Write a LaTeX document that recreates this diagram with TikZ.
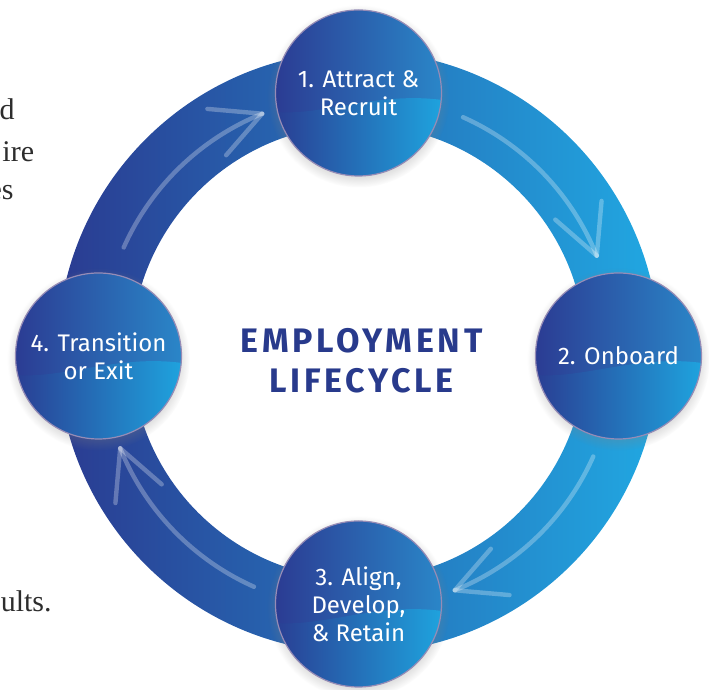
\documentclass[tikz,border=0pt]{standalone}
\usepackage{fontspec}
\setmainfont{Fira Sans}
\newfontfamily\titlefont{Fira Sans}[LetterSpace=11]
\newfontfamily\bodyfont{Liberation Serif}
\usepackage{tikz}
\usetikzlibrary{shadows,backgrounds}
\definecolor{navy}{RGB}{40,58,140}
\definecolor{ringleft}{RGB}{42,59,145}
\definecolor{ringmid}{RGB}{40,113,186}
\definecolor{ringright}{RGB}{33,168,226}
\definecolor{discleft}{RGB}{43,60,147}
\definecolor{discright}{RGB}{42,134,200}
\definecolor{waveleft}{RGB}{42,58,144}
\definecolor{waveright}{RGB}{30,167,225}
\definecolor{rim}{RGB}{150,140,182}
\definecolor{prosegrey}{RGB}{45,45,45}
\tikzstyle{stage} = [circle, minimum size=83pt, inner sep=0pt, align=center, text=white, font=\fontsize{12}{14}\selectfont, draw=rim, line width=0.6pt]
\tikzstyle{disc} = [left color=discleft, right color=discright, circular drop shadow={shadow xshift=0pt, shadow yshift=-1.5pt, opacity=0.3}]
\tikzstyle{wave} = [left color=waveleft, right color=waveright]
\tikzstyle{heading} = [align=center, text=navy, font=\titlefont\bfseries\fontsize{17}{20}\selectfont]
\tikzstyle{prose} = [anchor=base east, inner sep=0pt, text=prosegrey, font=\bodyfont\fontsize{15}{20}\selectfont]
\tikzstyle{chalk} = [white, opacity=0.28, line width=2.2pt, line cap=round, line join=round]

\begin{document}
\begin{tikzpicture}[x=0.5pt, y=0.5pt]
        \useasboundingbox (-358.5,-338) rectangle (350.5,352);
        \coordinate (hub) at (0,0);
        \node (attract-recruit) [stage] at (0,259) {1. Attract \&\\Recruit};
        \node (onboard) [stage] at (260,-4) {2. Onboard};
        \node (align-develop) [stage] at (0,-252) {3. Align,\\Develop,\\\& Retain};
        \node (transition-exit) [stage] at (-260,-4) {4. Transition\\or Exit};
        \node (heading) [heading] at (3,-9) {EMPLOYMENT\\LIFECYCLE};
        \begin{scope}[on background layer]
            \shade [left color=ringleft, middle color=ringmid, right color=ringright, even odd rule] (hub) circle (301) (hub) circle (227);
            \foreach \stage in {attract-recruit, onboard, align-develop, transition-exit} {
                \shade [disc] (\stage.center) circle (83);
                \begin{scope}[shift={(\stage.center)}]
                    \clip (0,0) circle (83);
                    \shade [wave] (-90,-18) .. controls (-40,-26) and (20,4) .. (90,-8) -- (90,-90) -- (-90,-90) -- cycle;
                \end{scope}
            }
        \end{scope}
        \foreach \q in {90,0,-90,-180} {
            \draw [chalk] ([shift={({\q+66}:257)}]hub) arc [start angle=\q+66, end angle=\q+22, radius=257];
            \draw [chalk] ([shift={({\q+22}:257)}]hub) -- ++({\q+139}:55);
            \draw [chalk] ([shift={({\q+22}:257)}]hub) -- ++({\q+85}:55);
        }
        \node (prose-1) [prose] at (-343.5,232) {d};
        \node (prose-2) [prose] at (-324,190) {ire};
        \node (prose-3) [prose] at (-344.5,152) {es};
        \node (prose-4) [prose] at (-306.5,-260) {ults.};
    \end{tikzpicture}
\end{document}
